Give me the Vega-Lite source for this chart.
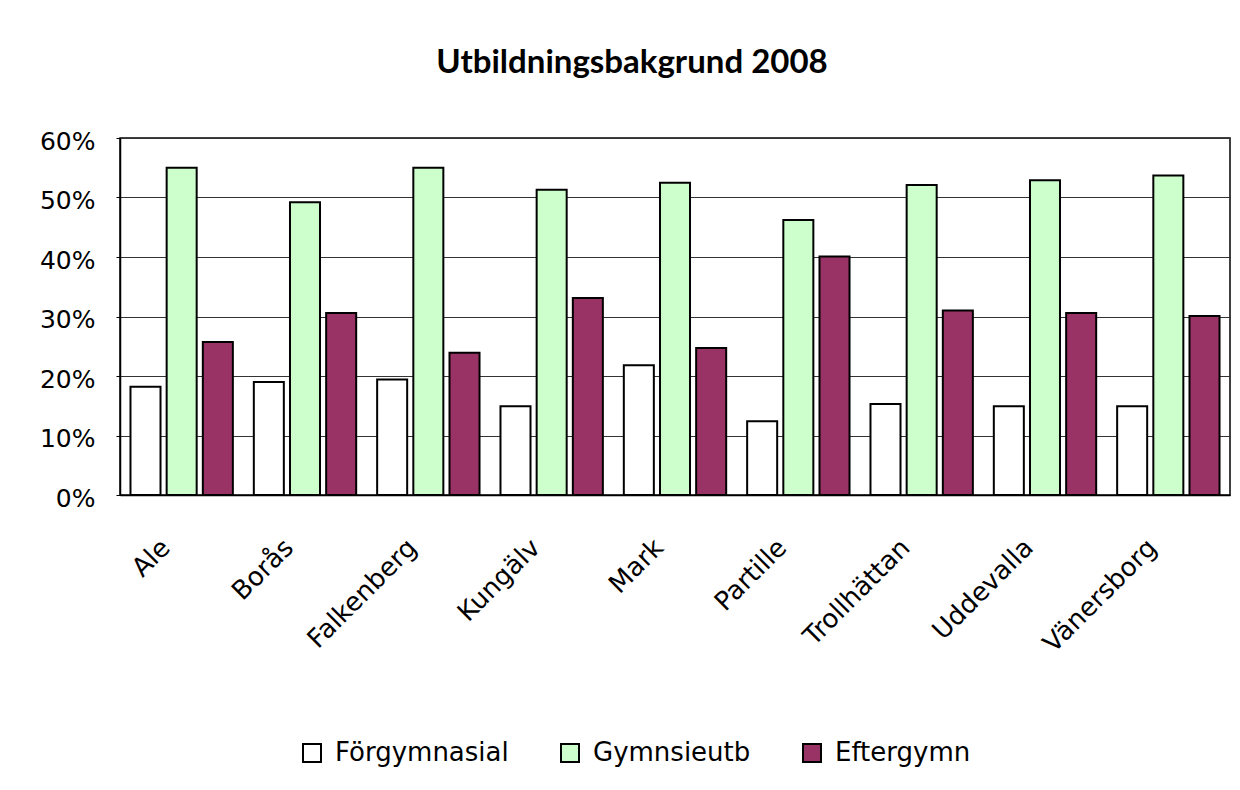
{
  "$schema": "https://vega.github.io/schema/vega-lite/v6.json",
  "autosize": "none",
  "width": 1110,
  "height": 357,
  "padding": {"left": 120, "top": 138, "right": 10, "bottom": 295},
  "background": "white",
  "title": {
    "text": "Utbildningsbakgrund 2008",
    "font": "Lato",
    "fontSize": 33,
    "fontWeight": "bold",
    "color": "black",
    "anchor": "middle",
    "dx": -43,
    "offset": 49
  },
  "data": {
    "values": [
      {"kommun": "Ale", "kategori": "Förgymnasial", "andel": 0.182},
      {"kommun": "Ale", "kategori": "Gymnsieutb", "andel": 0.550},
      {"kommun": "Ale", "kategori": "Eftergymn", "andel": 0.257},
      {"kommun": "Borås", "kategori": "Förgymnasial", "andel": 0.190},
      {"kommun": "Borås", "kategori": "Gymnsieutb", "andel": 0.492},
      {"kommun": "Borås", "kategori": "Eftergymn", "andel": 0.306},
      {"kommun": "Falkenberg", "kategori": "Förgymnasial", "andel": 0.194},
      {"kommun": "Falkenberg", "kategori": "Gymnsieutb", "andel": 0.550},
      {"kommun": "Falkenberg", "kategori": "Eftergymn", "andel": 0.239},
      {"kommun": "Kungälv", "kategori": "Förgymnasial", "andel": 0.149},
      {"kommun": "Kungälv", "kategori": "Gymnsieutb", "andel": 0.513},
      {"kommun": "Kungälv", "kategori": "Eftergymn", "andel": 0.331},
      {"kommun": "Mark", "kategori": "Förgymnasial", "andel": 0.218},
      {"kommun": "Mark", "kategori": "Gymnsieutb", "andel": 0.525},
      {"kommun": "Mark", "kategori": "Eftergymn", "andel": 0.247},
      {"kommun": "Partille", "kategori": "Förgymnasial", "andel": 0.124},
      {"kommun": "Partille", "kategori": "Gymnsieutb", "andel": 0.462},
      {"kommun": "Partille", "kategori": "Eftergymn", "andel": 0.401},
      {"kommun": "Trollhättan", "kategori": "Förgymnasial", "andel": 0.153},
      {"kommun": "Trollhättan", "kategori": "Gymnsieutb", "andel": 0.521},
      {"kommun": "Trollhättan", "kategori": "Eftergymn", "andel": 0.310},
      {"kommun": "Uddevalla", "kategori": "Förgymnasial", "andel": 0.149},
      {"kommun": "Uddevalla", "kategori": "Gymnsieutb", "andel": 0.529},
      {"kommun": "Uddevalla", "kategori": "Eftergymn", "andel": 0.306},
      {"kommun": "Vänersborg", "kategori": "Förgymnasial", "andel": 0.149},
      {"kommun": "Vänersborg", "kategori": "Gymnsieutb", "andel": 0.537},
      {"kommun": "Vänersborg", "kategori": "Eftergymn", "andel": 0.301}
    ]
  },
  "mark": {"type": "bar", "stroke": "black", "strokeWidth": 2},
  "encoding": {
    "x": {
      "field": "kommun",
      "type": "nominal",
      "sort": null,
      "scale": {"paddingInner": 0.17, "paddingOuter": 0.085},
      "axis": {
        "title": null,
        "labelAngle": -45,
        "labelAlign": "right",
        "labelBaseline": "top",
        "labelFont": "DejaVu Sans",
        "labelFontSize": 26,
        "labelColor": "black",
        "labelPadding": 39,
        "labelOffset": -25,
        "labelLimit": 400,
        "ticks": false,
        "domainColor": "black",
        "domainWidth": 1.5
      }
    },
    "xOffset": {
      "field": "kategori",
      "type": "nominal",
      "sort": ["Förgymnasial", "Gymnsieutb", "Eftergymn"],
      "scale": {"paddingInner": 0.17}
    },
    "y": {
      "field": "andel",
      "type": "quantitative",
      "scale": {"domain": [0, 0.6], "nice": false},
      "axis": {
        "title": null,
        "format": ".0%",
        "values": [0, 0.1, 0.2, 0.3, 0.4, 0.5, 0.6],
        "labelFont": "DejaVu Sans",
        "labelFontSize": 25,
        "labelColor": "black",
        "labelPadding": 21,
        "labelOffset": 3,
        "tickSize": 4,
        "tickColor": "black",
        "domainColor": "black",
        "domainWidth": 1.5,
        "gridColor": "#333333",
        "gridWidth": 1.2
      }
    },
    "fill": {
      "field": "kategori",
      "type": "nominal",
      "sort": ["Förgymnasial", "Gymnsieutb", "Eftergymn"],
      "scale": {
        "domain": ["Förgymnasial", "Gymnsieutb", "Eftergymn"],
        "range": ["#ffffff", "#ccffcc", "#993366"]
      },
      "legend": {
        "title": null,
        "orient": "none",
        "direction": "horizontal",
        "legendX": 179,
        "legendY": 602,
        "symbolType": "square",
        "symbolSize": 324,
        "symbolStrokeColor": "black",
        "symbolStrokeWidth": 2,
        "labelFont": "DejaVu Sans",
        "labelFontSize": 26,
        "labelColor": "black",
        "labelOffset": 10,
        "labelLimit": 400,
        "columnPadding": 48
      }
    }
  },
  "config": {
    "view": {"stroke": "black", "strokeWidth": 1.5}
  }
}
